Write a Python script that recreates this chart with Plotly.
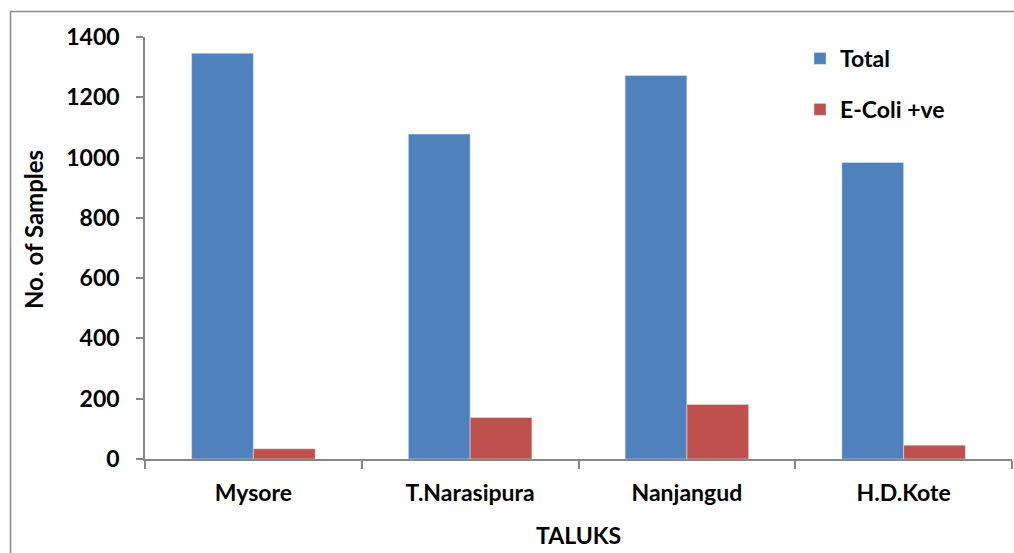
import plotly.graph_objects as go

categories = ["Mysore", "T.Narasipura", "Nanjangud", "H.D.Kote"]
total = [1346, 1078, 1272, 984]
ecoli = [34, 138, 181, 46]
y_ticks = [0, 200, 400, 600, 800, 1000, 1200, 1400]

FONT = "Lato"
FS = 23
W, H = 1014, 553
L, R, T, B = 145, 2, 37, 94
pw, ph = W - L - R, H - T - B

def px(x):
    return (x - L) / pw

def py(y):
    return (H - B - y) / ph

tfont = dict(family=FONT, size=FS, color="black", weight="bold")

fig = go.Figure()
fig.add_trace(go.Bar(x=categories, y=total, name="Total", marker_color="#4F81BD",
                     legendgroup="a"))
fig.add_trace(go.Bar(x=categories, y=ecoli, name="E-Coli +ve", marker_color="#C0504D",
                     legendgroup="b"))

fig.update_layout(
    width=W, height=H,
    margin=dict(l=L, r=R, t=T, b=B, pad=0),
    paper_bgcolor="white", plot_bgcolor="white",
    font=tfont,
    barmode="group", bargap=0.43, bargroupgap=0,
    showlegend=True,
    legend=dict(x=px(800), y=py(37), xanchor="left", yanchor="top",
                bgcolor="rgba(0,0,0,0)", tracegroupgap=18, font=tfont),
    xaxis=dict(range=[-0.5, 3.5], showline=True, linecolor="#868686", linewidth=1.5,
               ticks="outside", tickson="boundaries", ticklen=8, tickcolor="#868686",
               tickwidth=1.5, showgrid=False, zeroline=False, fixedrange=True,
               ticklabelstandoff=13, tickfont=tfont),
    yaxis=dict(range=[0, 1400], tickvals=y_ticks, showline=True, linecolor="#868686",
               linewidth=1.5, ticks="outside", ticklen=7, tickcolor="#868686",
               tickwidth=1.5, showgrid=False, zeroline=False, ticklabelstandoff=12,
               tickfont=tfont),
    shapes=[dict(type="rect", xref="paper", yref="paper",
                 x0=px(10.5), x1=1.3, y0=-0.6, y1=py(11.5),
                 line=dict(color="#8C8C8C", width=1.5), fillcolor="rgba(0,0,0,0)",
                 layer="below")],
    annotations=[
        dict(text="No. of Samples", xref="paper", yref="paper", x=px(33), y=py(230),
             textangle=-90, showarrow=False, xanchor="center", yanchor="middle",
             font=dict(family=FONT, size=24, color="black", weight="bold")),
        dict(text="TALUKS", xref="paper", yref="paper", x=px(578), y=py(535),
             showarrow=False, xanchor="center", yanchor="middle", font=tfont),
    ],
)

fig.write_html("out.html", config={"displayModeBar": False},
               post_script="document.body.style.margin='0';document.body.style.overflow='hidden';")
